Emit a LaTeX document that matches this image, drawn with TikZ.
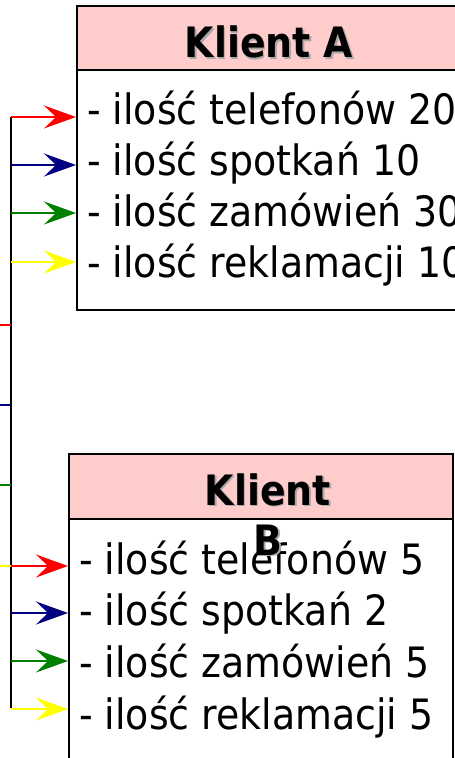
\documentclass[tikz,border=0pt]{standalone}
\usepackage{fontspec}
\setmainfont{DejaVu Sans}[FakeStretch=0.905]
\usetikzlibrary{arrows.meta}
\definecolor{ink}{HTML}{000000}
\definecolor{shade}{HTML}{A8A8A8}
\definecolor{header}{HTML}{FFCCCC}
\definecolor{red}{HTML}{FF0000}
\definecolor{navy}{HTML}{000080}
\definecolor{green}{HTML}{008000}
\definecolor{yellow}{HTML}{FFFF00}

\begin{document}
\begin{tikzpicture}[
    x=1bp, y=-1bp,
    font=\fontsize{42}{51}\selectfont,
    box/.style={draw=ink, line width=2.3pt, inner sep=0pt, anchor=north west},
    title/.style={font=\fontsize{42}{50}\selectfont\bfseries, text=ink, anchor=base, inner sep=0pt},
    shadow/.style={title, text=shade},
    item/.style={text=ink, anchor=base west, inner sep=0pt},
    bus/.style={draw=ink, line width=3pt},
    wire/.style={line width=2.2pt},
    feed/.style={wire, -{Stealth[length=32bp, width=23bp, inset=12bp]}}
]
\useasboundingbox (0,0) rectangle (455,758);
\clip (0,0) rectangle (455,758);

% Klient A: header and list
\node[box, fill=header, minimum width=386bp, minimum height=64bp] (headA) at (76,5) {};
\node[box, minimum width=386bp, minimum height=240bp] (bodyA) at (76,69) {};
\node[shadow] (titleAshadow) at (270.5,59.5) {Klient A};
\node[title] (titleA) at (269,58) {Klient A};
\foreach \y/\txt [count=\i] in {124/- ilość telefonów 20, 175/- ilość spotkań 10,
                                226/- ilość zamówień 30, 277/- ilość reklamacji 10}
    \node[item] (itemA\i) at (87,\y) {\txt};

% Klient B: header and list
\node[box, fill=header, minimum width=384bp, minimum height=65bp] (headB) at (68,453) {};
\node[box, minimum width=384bp, minimum height=260bp] (bodyB) at (68,518) {};
\foreach \y/\txt [count=\i] in {574/- ilość telefonów 5, 625/- ilość spotkań 2,
                                677/- ilość zamówień 5, 729/- ilość reklamacji 5}
    \node[item] (itemB\i) at (79,\y) {\txt};
\node[shadow, align=center] (titleBshadow) at (269.5,556.5) {Klient\\B};
\node[title, align=center] (titleB) at (268,555) {Klient\\B};

% common bus on the left
\coordinate (busTop) at (11,117);
\coordinate (busEnd) at (11,708);
\draw[bus] (busTop) -- (busEnd);

% incoming lines from the left edge
\foreach \y/\c in {325/red,405/navy,485/green,566/yellow} {
    \coordinate (in\c) at (0,\y);
    \draw[wire, \c] (in\c) -- (in\c -| busTop);
}

% feeds into both lists
\foreach \y/\c [count=\i] in {117/red,165/navy,213/green,262/yellow} {
    \coordinate (tapA\i) at (11,\y);
    \draw[feed, \c] (tapA\i) -- (tapA\i -| bodyA.west);
}
\foreach \y/\c [count=\i] in {566/red,613/navy,661/green,709/yellow} {
    \coordinate (tapB\i) at (11,\y);
    \draw[feed, \c] (tapB\i) -- (tapB\i -| bodyB.west);
}
\end{tikzpicture}
\end{document}
